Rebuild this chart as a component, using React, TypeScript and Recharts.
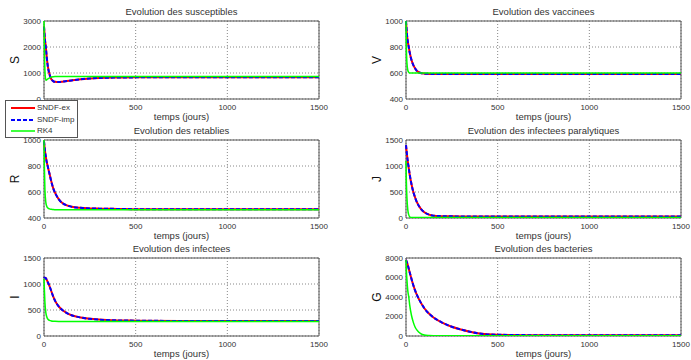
import { LineChart, Line, XAxis, YAxis, CartesianGrid, ReferenceArea } from 'recharts';

// time points (jours) shared by every series
const T = [0, 2, 5, 10, 15, 20, 30, 40, 50, 60, 80, 100, 125, 150, 200, 250, 300, 400, 500, 750, 1000, 1500];

const sEx = [2800, 2600, 2300, 2000, 1600, 1300, 950, 760, 690, 660, 650, 665, 690, 715, 760, 790, 810, 825, 832, 835, 835, 835];
const sImp = [2780, 2590, 2290, 1990, 1600, 1300, 950, 760, 690, 660, 650, 665, 690, 715, 760, 790, 810, 825, 832, 835, 835, 835];
const sRk = [3000, 2000, 1100, 720, 740, 770, 810, 840, 855, 865, 870, 870, 870, 870, 870, 870, 870, 870, 870, 870, 870, 870];

const vEx = [1000, 960, 900, 840, 800, 760, 700, 660, 635, 615, 600, 595, 593, 592, 592, 592, 592, 592, 592, 592, 592, 592];
const vImp = [1000, 960, 900, 840, 800, 760, 700, 660, 635, 615, 600, 595, 593, 592, 592, 592, 592, 592, 592, 592, 592, 592];
const vRk = [1000, 800, 680, 620, 605, 600, 600, 600, 600, 600, 600, 600, 600, 600, 600, 600, 600, 600, 600, 600, 600, 600];

const rEx = [990, 960, 920, 870, 830, 800, 740, 680, 630, 595, 545, 515, 497, 487, 478, 474, 472, 470, 468, 468, 468, 468];
const rImp = [990, 960, 920, 870, 830, 800, 740, 680, 630, 595, 545, 515, 497, 487, 478, 474, 472, 470, 468, 468, 468, 468];
const rRk = [1000, 800, 620, 520, 490, 478, 470, 467, 465, 464, 463, 463, 463, 463, 463, 463, 463, 463, 463, 463, 463, 463];

const jEx = [1400, 1330, 1230, 1080, 960, 840, 650, 500, 390, 300, 180, 110, 65, 45, 35, 32, 30, 30, 30, 30, 30, 30];
const jImp = [1400, 1330, 1230, 1080, 960, 840, 650, 500, 390, 300, 180, 110, 65, 45, 35, 32, 30, 30, 30, 30, 30, 30];
const jRk = [1100, 700, 400, 150, 60, 25, 10, 8, 8, 8, 8, 8, 8, 8, 8, 8, 8, 8, 8, 8, 8, 8];

const iEx = [1110, 1120, 1120, 1110, 1080, 1040, 960, 860, 760, 680, 570, 500, 440, 400, 355, 330, 315, 300, 295, 290, 290, 290];
const iImp = [1110, 1120, 1120, 1110, 1080, 1040, 960, 860, 760, 680, 570, 500, 440, 400, 355, 330, 315, 300, 295, 290, 290, 290];
const iRk = [1100, 900, 650, 450, 370, 330, 300, 290, 285, 282, 280, 280, 280, 280, 280, 280, 280, 280, 280, 280, 280, 280];

const gEx = [7800, 7700, 7550, 7250, 6900, 6550, 5850, 5200, 4650, 4200, 3450, 2850, 2300, 1900, 1350, 950, 670, 260, 130, 80, 70, 70];
const gImp = [7800, 7700, 7550, 7250, 6900, 6550, 5850, 5200, 4650, 4200, 3450, 2850, 2300, 1900, 1350, 950, 670, 260, 130, 80, 70, 70];
const gRk = [7800, 6800, 5800, 4600, 4000, 3200, 2100, 1400, 900, 600, 250, 100, 50, 30, 20, 20, 20, 20, 20, 20, 20, 20];

const xTicks = [0, 500, 1000, 1500];

const FONT = '"Liberation Sans", Arial, sans-serif';
const TXT = '#333';

type PanelProps = {
  left: number;
  top: number;
  title: string;
  ylabel: string;
  domain: [number, number];
  yTicks: number[];
  ex: number[];
  imp: number[];
  rk: number[];
};

function Panel({ left, top, title, ylabel, domain, yTicks, ex, imp, rk }: PanelProps) {
  const data = T.map((t, i) => ({ t, ex: ex[i], imp: imp[i], rk: rk[i] }));
  return (
    <div style={{ position: 'absolute', left, top, width: 345, height: 123 }}>
      <div style={{ position: 'absolute', left: 44, top: 5.5, width: 275, textAlign: 'center', fontSize: 9.5, lineHeight: '12px', color: TXT }}>
        {title}
      </div>
      <LineChart width={345} height={123} data={data} margin={{ top: 21, right: 26, bottom: 0, left: 0 }}>
        <CartesianGrid stroke="#888" strokeDasharray="1 2" />
        <ReferenceArea x1={0} x2={1500} y1={domain[0]} y2={domain[1]} fill="none" stroke="#555" strokeWidth={1} />
        <XAxis
          dataKey="t"
          type="number"
          domain={[0, 1500]}
          ticks={xTicks}
          height={24}
          tickLine={false}
          axisLine={false}
          tickSize={3}
          tickMargin={2}
          tick={{ fontSize: 8, fill: TXT, fontFamily: FONT }}
        />
        <YAxis
          type="number"
          domain={domain}
          ticks={yTicks}
          width={44}
          tickLine={false}
          axisLine={false}
          tickSize={2}
          tickMargin={1}
          allowDataOverflow
          tick={{ fontSize: 8, fill: TXT, fontFamily: FONT }}
        />
        <Line type="monotone" dataKey="ex" stroke="#ff0000" strokeWidth={2} dot={false} isAnimationActive={false} />
        <Line type="monotone" dataKey="imp" stroke="#0000ff" strokeWidth={2} strokeDasharray="4 2" dot={false} isAnimationActive={false} />
        <Line type="monotone" dataKey="rk" stroke="#00ff00" strokeWidth={1.5} dot={false} isAnimationActive={false} />
      </LineChart>
      <div style={{ position: 'absolute', left: 44, top: 111, width: 275, textAlign: 'center', fontSize: 9.5, lineHeight: '12px', color: TXT }}>
        temps (jours)
      </div>
      <div
        style={{
          position: 'absolute',
          left: 15,
          top: 60,
          fontSize: 12,
          lineHeight: '12px',
          color: '#111',
          transform: 'translate(-50%, -50%) rotate(-90deg)',
        }}
      >
        {ylabel}
      </div>
    </div>
  );
}

function LegendBox() {
  const items = [
    { name: 'SNDF-ex', color: '#ff0000', dash: undefined, w: 2 },
    { name: 'SNDF-imp', color: '#0000ff', dash: '4 2', w: 2 },
    { name: 'RK4', color: '#00ff00', dash: undefined, w: 1.5 },
  ];
  return (
    <div
      style={{
        position: 'absolute',
        left: 5,
        top: 100,
        width: 71,
        height: 36,
        background: '#fff',
        border: '1px solid #555',
      }}
    >
      {items.map((it, i) => (
        <div key={it.name} style={{ position: 'absolute', left: 0, top: 1 + i * 11.5, height: 12, display: 'flex', alignItems: 'center' }}>
          <svg width={31} height={12} style={{ display: 'block' }}>
            <line x1={5} x2={29} y1={6} y2={6} stroke={it.color} strokeWidth={it.w} strokeDasharray={it.dash} />
          </svg>
          <span style={{ fontSize: 8, color: TXT, lineHeight: '12px' }}>{it.name}</span>
        </div>
      ))}
    </div>
  );
}

export default function App() {
  return (
    <div style={{ position: 'absolute', left: 0, top: 0, width: 691, height: 360, background: '#fff', fontFamily: FONT, overflow: 'hidden' }}>
      <Panel left={0} top={0} title="Evolution des susceptibles" ylabel="S" domain={[0, 3000]} yTicks={[0, 1000, 2000, 3000]} ex={sEx} imp={sImp} rk={sRk} />
      <Panel left={362} top={0} title="Evolution des vaccinees" ylabel="V" domain={[400, 1000]} yTicks={[400, 600, 800, 1000]} ex={vEx} imp={vImp} rk={vRk} />
      <Panel left={0} top={119} title="Evolution des retablies" ylabel="R" domain={[400, 1000]} yTicks={[400, 600, 800, 1000]} ex={rEx} imp={rImp} rk={rRk} />
      <Panel left={362} top={119} title="Evolution des infectees paralytiques" ylabel="J" domain={[0, 1500]} yTicks={[0, 500, 1000, 1500]} ex={jEx} imp={jImp} rk={jRk} />
      <Panel left={0} top={237} title="Evolution des infectees" ylabel="I" domain={[0, 1500]} yTicks={[0, 500, 1000, 1500]} ex={iEx} imp={iImp} rk={iRk} />
      <Panel left={362} top={237} title="Evolution des bacteries" ylabel="G" domain={[0, 8000]} yTicks={[0, 2000, 4000, 6000, 8000]} ex={gEx} imp={gImp} rk={gRk} />
      <LegendBox />
    </div>
  );
}
